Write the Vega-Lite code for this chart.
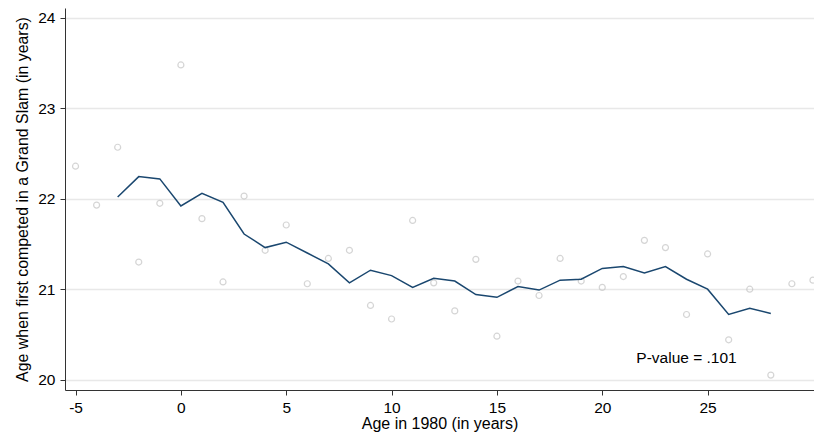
{
  "$schema": "https://vega.github.io/schema/vega-lite/v6.json",
  "width": 749,
  "height": 382,
  "autosize": {"type": "none"},
  "padding": {"left": 65, "top": 8, "right": 0, "bottom": 45},
  "background": "white",
  "config": {
    "view": {"stroke": null},
    "font": "Liberation Sans",
    "axis": {"labelFont": "Liberation Sans", "titleFont": "Liberation Sans", "labelColor": "black", "titleColor": "black", "titleFontWeight": "normal", "domainColor": "#333333", "tickColor": "#333333", "domainWidth": 1, "tickWidth": 1}
  },
  "datasets": {
    "pts": [
      {"age1980": -5, "firstAge": 22.36},
      {"age1980": -4, "firstAge": 21.93},
      {"age1980": -3, "firstAge": 22.57},
      {"age1980": -2, "firstAge": 21.30},
      {"age1980": -1, "firstAge": 21.95},
      {"age1980": 0, "firstAge": 23.48},
      {"age1980": 1, "firstAge": 21.78},
      {"age1980": 2, "firstAge": 21.08},
      {"age1980": 3, "firstAge": 22.03},
      {"age1980": 4, "firstAge": 21.43},
      {"age1980": 5, "firstAge": 21.71},
      {"age1980": 6, "firstAge": 21.06},
      {"age1980": 7, "firstAge": 21.34},
      {"age1980": 8, "firstAge": 21.43},
      {"age1980": 9, "firstAge": 20.82},
      {"age1980": 10, "firstAge": 20.67},
      {"age1980": 11, "firstAge": 21.76},
      {"age1980": 12, "firstAge": 21.07},
      {"age1980": 13, "firstAge": 20.76},
      {"age1980": 14, "firstAge": 21.33},
      {"age1980": 15, "firstAge": 20.48},
      {"age1980": 16, "firstAge": 21.09},
      {"age1980": 17, "firstAge": 20.93},
      {"age1980": 18, "firstAge": 21.34},
      {"age1980": 19, "firstAge": 21.09},
      {"age1980": 20, "firstAge": 21.02},
      {"age1980": 21, "firstAge": 21.14},
      {"age1980": 22, "firstAge": 21.54},
      {"age1980": 23, "firstAge": 21.46},
      {"age1980": 24, "firstAge": 20.72},
      {"age1980": 25, "firstAge": 21.39},
      {"age1980": 26, "firstAge": 20.44},
      {"age1980": 27, "firstAge": 21.00},
      {"age1980": 28, "firstAge": 20.05},
      {"age1980": 29, "firstAge": 21.06},
      {"age1980": 30, "firstAge": 21.10}
    ],
    "avg": [
      {"age1980": -3, "smooth": 22.02},
      {"age1980": -2, "smooth": 22.245},
      {"age1980": -1, "smooth": 22.22},
      {"age1980": 0, "smooth": 21.92},
      {"age1980": 1, "smooth": 22.06},
      {"age1980": 2, "smooth": 21.96},
      {"age1980": 3, "smooth": 21.61},
      {"age1980": 4, "smooth": 21.46},
      {"age1980": 5, "smooth": 21.52},
      {"age1980": 6, "smooth": 21.40},
      {"age1980": 7, "smooth": 21.28},
      {"age1980": 8, "smooth": 21.07},
      {"age1980": 9, "smooth": 21.21},
      {"age1980": 10, "smooth": 21.15},
      {"age1980": 11, "smooth": 21.02},
      {"age1980": 12, "smooth": 21.12},
      {"age1980": 13, "smooth": 21.09},
      {"age1980": 14, "smooth": 20.94},
      {"age1980": 15, "smooth": 20.91},
      {"age1980": 16, "smooth": 21.03},
      {"age1980": 17, "smooth": 20.99},
      {"age1980": 18, "smooth": 21.10},
      {"age1980": 19, "smooth": 21.11},
      {"age1980": 20, "smooth": 21.23},
      {"age1980": 21, "smooth": 21.25},
      {"age1980": 22, "smooth": 21.18},
      {"age1980": 23, "smooth": 21.25},
      {"age1980": 24, "smooth": 21.11},
      {"age1980": 25, "smooth": 21.00},
      {"age1980": 26, "smooth": 20.72},
      {"age1980": 27, "smooth": 20.79},
      {"age1980": 28, "smooth": 20.73}
    ],
    "note": [
      {"age1980": 24, "firstAge": 20.235, "label": "P-value = .101"}
    ]
  },
  "layer": [
    {
      "data": {"name": "pts"},
      "mark": {"type": "point", "shape": "circle", "filled": false, "stroke": "#c4c4c4", "strokeWidth": 1.2, "size": 36},
      "encoding": {
        "x": {"field": "age1980", "type": "quantitative", "scale": {"domain": [-5.5, 30.05], "nice": false, "zero": false},
          "axis": {"values": [-5, 0, 5, 10, 15, 20, 25], "labelExpr": "'' + datum.value", "title": "Age in 1980 (in years)", "grid": false, "labelFontSize": 15.5, "titleFontSize": 16, "tickSize": 5, "labelPadding": 5, "titlePadding": 0, "labelFlush": false}},
        "y": {"field": "firstAge", "type": "quantitative", "scale": {"domain": [19.885, 24.11], "nice": false, "zero": false},
          "axis": {"values": [20, 21, 22, 23, 24], "labelExpr": "'' + datum.value", "title": "Age when first competed in a Grand Slam (in years)", "grid": true, "gridColor": "#e8e8e8", "gridWidth": 1.5, "labelFontSize": 15.5, "titleFontSize": 15.9, "tickSize": 5, "labelPadding": 5, "titlePadding": 7, "labelFlush": false}}
      }
    },
    {
      "data": {"name": "avg"},
      "mark": {"type": "line", "color": "#1a476f", "strokeWidth": 1.5},
      "encoding": {
        "x": {"field": "age1980", "type": "quantitative"},
        "y": {"field": "smooth", "type": "quantitative"}
      }
    },
    {
      "data": {"name": "note"},
      "mark": {"type": "text", "fontSize": 15.5, "color": "black", "align": "center", "baseline": "middle"},
      "encoding": {
        "x": {"field": "age1980", "type": "quantitative"},
        "y": {"field": "firstAge", "type": "quantitative"},
        "text": {"field": "label"}
      }
    }
  ]
}
